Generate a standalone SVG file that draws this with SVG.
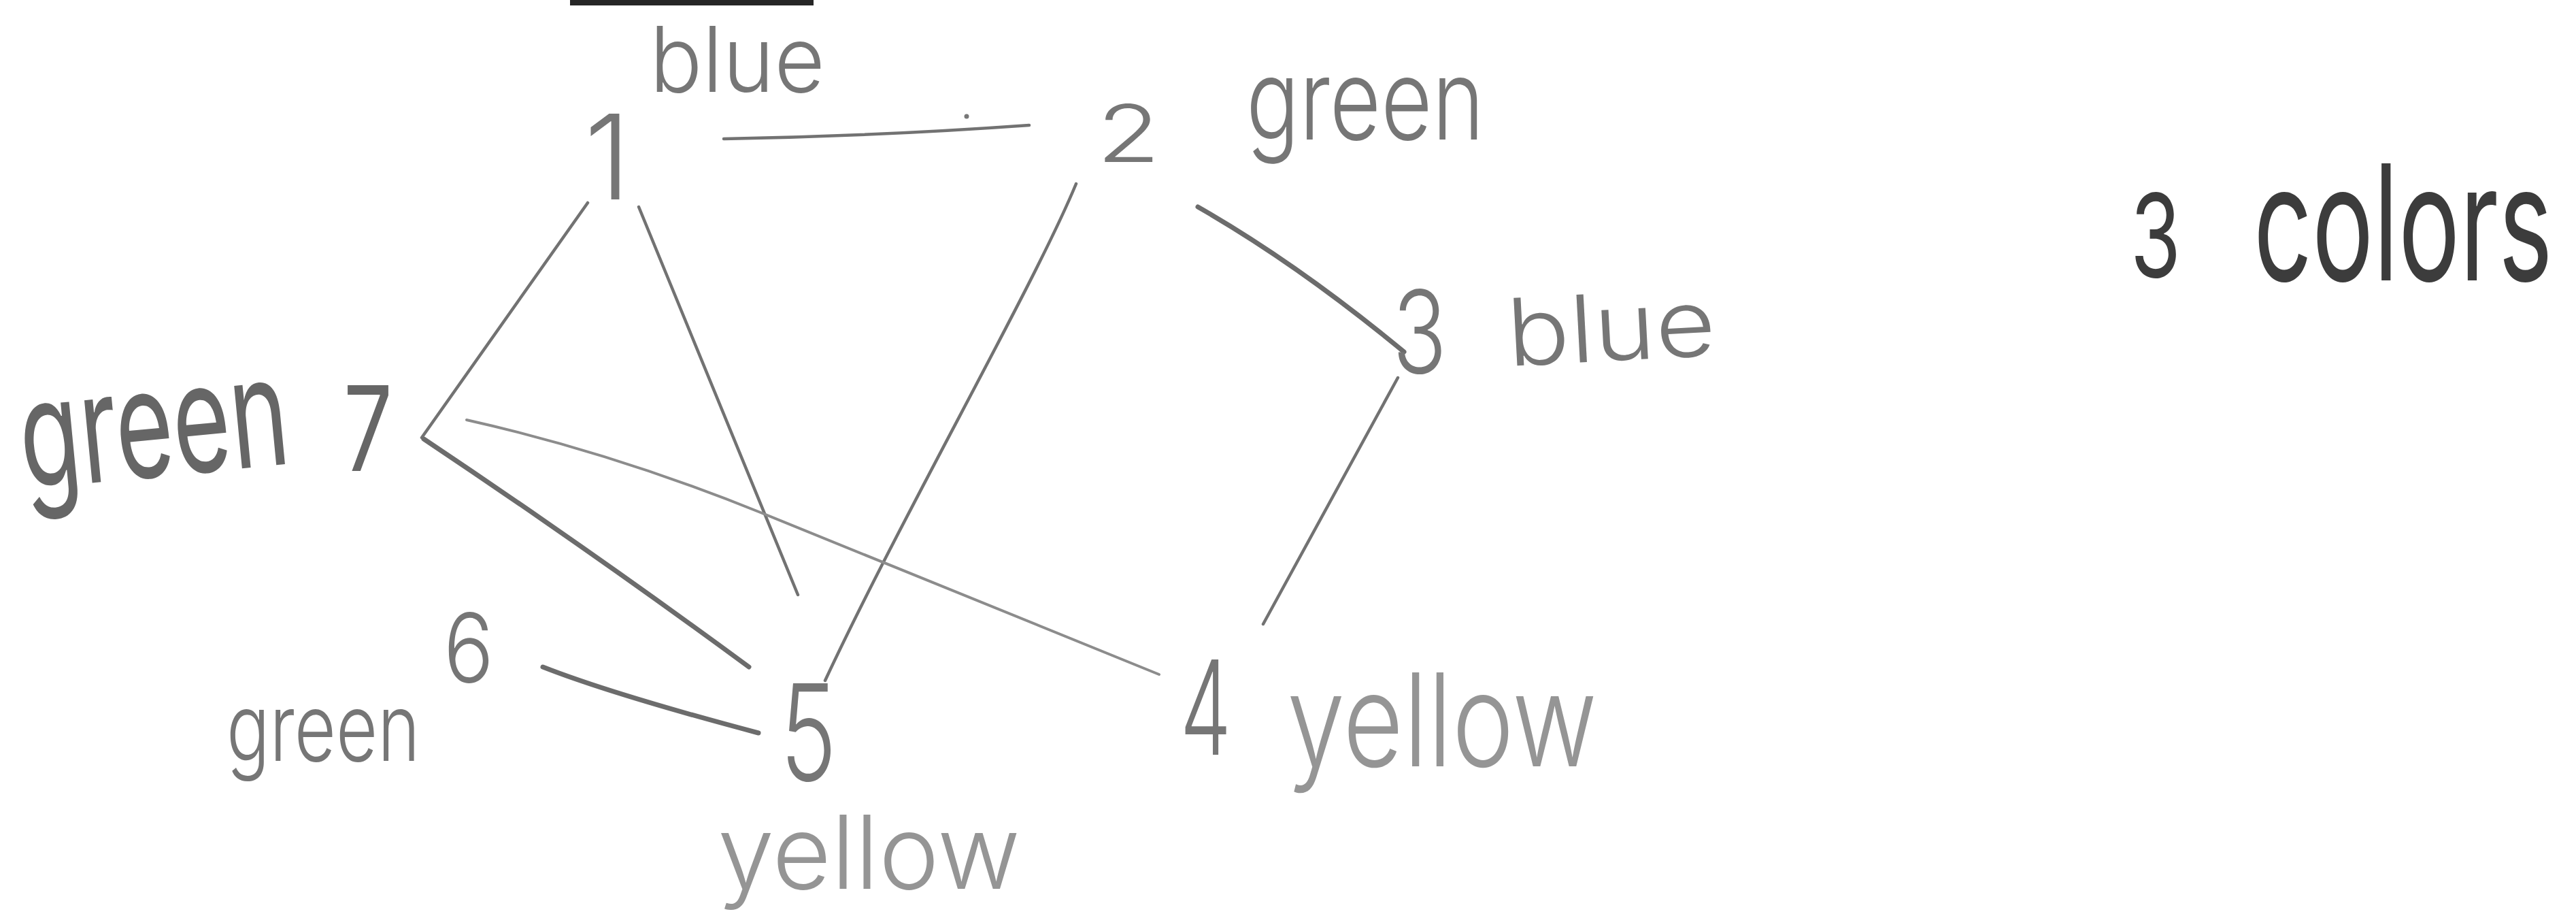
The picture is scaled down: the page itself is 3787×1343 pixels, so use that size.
<svg xmlns="http://www.w3.org/2000/svg" width="3787" height="1343" viewBox="0 0 3787 1343">
<style>
  .t { font-family: "Inter", "Liberation Sans", sans-serif; font-weight: 300; fill: #767676; }
  .dark { fill: #666666; font-weight: 400; }
  .light { fill: #959595; }
  .note { font-family: "Inter", "Liberation Sans", sans-serif; font-weight: 400; fill: #3c3c3c; }
  .e { fill: none; stroke: #727272; stroke-width: 4.5; stroke-linecap: round; }
  .thick { stroke-width: 7; stroke: #6c6c6c; }
  .faint { stroke: #8c8c8c; stroke-width: 4; }
</style>
<rect width="3787" height="1343" fill="#ffffff"/>
<rect id="top-rule" x="838" y="0" width="358" height="8" fill="#262626"/>
<g id="connectors">
  <path class="e" d="M1064,204 Q1290,200 1513,184"/>
  <circle cx="1421" cy="171" r="3.5" fill="#777"/>
  <path class="e" d="M864,298 L620,643"/>
  <path class="e" d="M939,304 L1173,874"/>
  <path class="e" d="M1582,270 C1520,420 1330,750 1213,1000"/>
  <path class="e thick" d="M1761,304 Q1908,388 2064,517"/>
  <path class="e" d="M2055,555 L1857,917"/>
  <path class="e faint" d="M686,617 Q900,665 1118,753 T1704,991"/>
  <path class="e thick" d="M623,645 Q870,810 1101,980"/>
  <path class="e thick" d="M798,980 Q900,1020 1115,1077"/>
</g>
<g id="node-1">
  <text class="t" x="893" y="293" font-size="173" text-anchor="middle">1</text>
  <text class="t" x="955" y="135" font-size="134" textLength="258" lengthAdjust="spacingAndGlyphs">blue</text>
</g>
<g id="node-2">
  <text class="t" x="1612" y="238" font-size="116" textLength="94" lengthAdjust="spacingAndGlyphs">2</text>
  <text class="t" x="1832" y="205" font-size="165" textLength="350" lengthAdjust="spacingAndGlyphs">green</text>
</g>
<g id="node-3">
  <text class="t" x="2047" y="548" font-size="168" textLength="80" lengthAdjust="spacingAndGlyphs">3</text>
  <text class="t" x="2216" y="530" font-size="137" textLength="307" lengthAdjust="spacingAndGlyphs" transform="rotate(-3 2370 500)">blue</text>
</g>
<g id="node-4">
  <text class="t" x="1735" y="1109" font-size="193" textLength="75" lengthAdjust="spacingAndGlyphs">4</text>
  <text class="t light" x="1892" y="1126" font-size="189" textLength="456" lengthAdjust="spacingAndGlyphs">yellow</text>
</g>
<g id="node-5">
  <text class="t" x="1147" y="1147" font-size="197" textLength="83" lengthAdjust="spacingAndGlyphs">5</text>
  <text class="t light" x="1055" y="1306" font-size="150" textLength="445" lengthAdjust="spacingAndGlyphs">yellow</text>
</g>
<g id="node-6">
  <text class="t" x="652" y="1003" font-size="141" textLength="74" lengthAdjust="spacingAndGlyphs">6</text>
  <text class="t" x="0" y="0" font-size="138" textLength="379" lengthAdjust="spacingAndGlyphs" transform="translate(333 1118) scale(0.75 1)">green</text>
</g>
<g id="node-7">
  <text class="t dark" x="34" y="700" font-size="223" textLength="396" lengthAdjust="spacingAndGlyphs" transform="rotate(-5.5 232 690)">green</text>
  <text class="t dark" x="505" y="692" font-size="173" textLength="72" lengthAdjust="spacingAndGlyphs">7</text>
</g>
<g id="note">
  <text class="note" x="3132" y="407" font-size="169" textLength="74" lengthAdjust="spacingAndGlyphs">3</text>
  <text class="note" x="0" y="0" font-size="236" textLength="687" lengthAdjust="spacingAndGlyphs" transform="translate(3313 412) scale(0.64 1)">colors</text>
</g>
</svg>
